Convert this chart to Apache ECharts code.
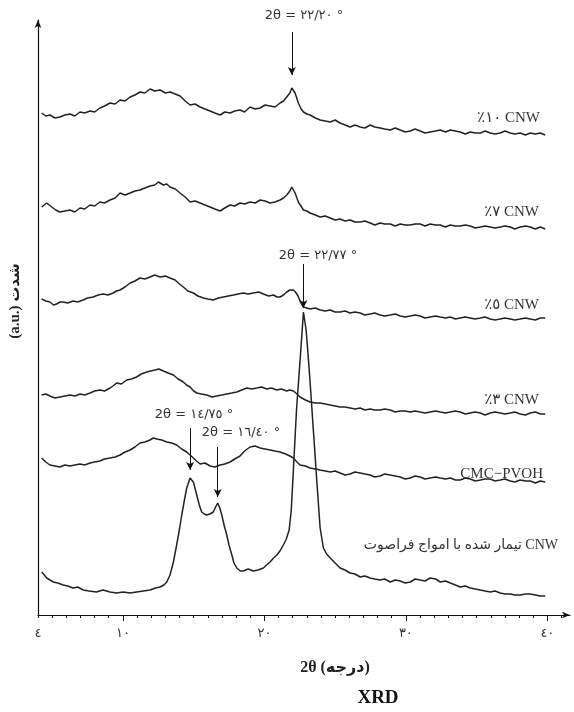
<!DOCTYPE html>
<html>
<head>
<meta charset="utf-8">
<script src="https://cdn.jsdelivr.net/npm/echarts@6/dist/echarts.min.js"></script>
<style>
  html, body { margin: 0; padding: 0; background: #fff; }
  #main { width: 574px; height: 712px; }
</style>
</head>
<body>
<div id="main"></div>
<script>
// x ticks (2θ, degrees) and their Persian labels
var tickValues = [4, 10, 20, 30, 40];
var tickLabels = ["٤", "١٠", "٢٠", "٣٠", "٤٠"];
var majorTicks = [10, 20, 30, 40];

// curves: [2θ, intensity a.u.]
var cnw10 = [
  [4.26, 502], [4.55, 499], [4.84, 500], [5.2, 497], [5.55, 498], [5.9, 500], [6.26, 501], [6.6, 499],
  [6.97, 503], [7.3, 502], [7.68, 504], [8.0, 503], [8.38, 507], [8.7, 509], [9.09, 512], [9.45, 511],
  [9.8, 515], [10.15, 514], [10.51, 518], [10.85, 520], [11.21, 523], [11.55, 522], [11.92, 526], [12.25, 524],
  [12.63, 525], [13.0, 522], [13.33, 523], [13.7, 521], [14.04, 519], [14.4, 514], [14.75, 510], [15.1, 511],
  [15.46, 508], [15.8, 506], [16.16, 504], [16.5, 502], [16.87, 500], [17.2, 503], [17.58, 502], [17.9, 504],
  [18.28, 505], [18.6, 503], [18.99, 508], [19.35, 506], [19.7, 507], [20.05, 510], [20.4, 509], [20.75, 508],
  [21.11, 512], [21.35, 514], [21.58, 518], [21.8, 522], [21.94, 527], [22.17, 522], [22.4, 512], [22.6, 506],
  [22.76, 503], [23.0, 501], [23.23, 500], [23.6, 497], [23.94, 495], [24.3, 494], [24.65, 493], [25.0, 495],
  [25.35, 492], [25.7, 490], [26.06, 488], [26.4, 490], [26.77, 488], [27.1, 487], [27.48, 490], [27.8, 488],
  [28.18, 487], [28.5, 486], [28.89, 485], [29.25, 487], [29.6, 485], [29.95, 483], [30.31, 484], [30.65, 486],
  [31.01, 484], [31.35, 482], [31.72, 483], [32.1, 484], [32.43, 485], [32.8, 483], [33.14, 485], [33.5, 484],
  [33.84, 483], [34.2, 481], [34.55, 483], [34.9, 482], [35.26, 482], [35.6, 484], [35.96, 482], [36.3, 481],
  [36.67, 482], [37.0, 484], [37.38, 482], [37.7, 481], [38.08, 482], [38.45, 480], [38.79, 482], [39.15, 481],
  [39.5, 482], [39.85, 480]
];
var cnw7 = [
  [4.26, 408], [4.61, 412], [4.97, 408], [5.25, 405], [5.55, 403], [5.9, 404], [6.26, 405], [6.6, 403],
  [6.97, 407], [7.3, 406], [7.68, 410], [8.0, 409], [8.38, 413], [8.7, 412], [9.09, 415], [9.45, 417],
  [9.8, 422], [10.15, 420], [10.51, 422], [10.85, 424], [11.21, 425], [11.55, 427], [11.92, 429], [12.25, 430],
  [12.51, 433], [12.86, 430], [13.1, 431], [13.33, 428], [13.7, 426], [14.04, 422], [14.4, 418], [14.75, 413],
  [15.1, 414], [15.46, 412], [15.8, 410], [16.16, 408], [16.5, 406], [16.87, 404], [17.2, 407], [17.58, 410],
  [17.9, 409], [18.28, 412], [18.6, 411], [18.99, 413], [19.35, 412], [19.7, 415], [20.05, 414], [20.4, 412],
  [20.75, 413], [21.11, 415], [21.35, 417], [21.58, 420], [21.8, 424], [21.94, 428], [22.17, 422], [22.4, 413],
  [22.76, 405], [23.0, 404], [23.23, 402], [23.6, 400], [23.94, 398], [24.3, 399], [24.65, 397], [25.0, 395],
  [25.35, 396], [25.7, 394], [26.06, 395], [26.4, 393], [26.77, 393], [27.1, 394], [27.48, 392], [27.8, 390],
  [28.18, 392], [28.5, 391], [28.89, 391], [29.25, 389], [29.6, 391], [29.95, 390], [30.31, 390], [30.65, 391],
  [31.01, 391], [31.35, 389], [31.72, 391], [32.1, 390], [32.43, 390], [32.8, 388], [33.14, 390], [33.5, 389],
  [33.84, 389], [34.2, 390], [34.55, 389], [34.9, 387], [35.26, 388], [35.6, 389], [35.96, 388], [36.3, 387],
  [36.67, 388], [37.0, 389], [37.38, 388], [37.7, 386], [38.08, 388], [38.45, 389], [38.79, 388], [39.15, 386],
  [39.5, 388], [39.85, 386]
];
var cnw5 = [
  [4.26, 316], [4.55, 314], [4.84, 313], [5.1, 310], [5.31, 311], [5.55, 313], [5.78, 313], [6.1, 312],
  [6.48, 314], [6.8, 313], [7.19, 315], [7.5, 317], [7.9, 318], [8.25, 320], [8.61, 321], [8.95, 320],
  [9.31, 322], [9.55, 324], [9.8, 325], [10.15, 328], [10.51, 332], [10.85, 334], [11.21, 337], [11.55, 336],
  [11.92, 338], [12.25, 340], [12.63, 338], [13.0, 339], [13.33, 337], [13.69, 335], [14.0, 331], [14.27, 328],
  [14.6, 324], [14.98, 322], [15.3, 319], [15.69, 317], [16.0, 316], [16.39, 315], [16.75, 317], [17.1, 318],
  [17.45, 319], [17.81, 320], [18.15, 321], [18.51, 322], [18.85, 321], [19.22, 322], [19.6, 323], [19.93, 321],
  [20.3, 319], [20.64, 320], [20.9, 318], [21.11, 318], [21.35, 320], [21.58, 323], [21.8, 325], [22.05, 325],
  [22.2, 323], [22.38, 319], [22.55, 313], [22.76, 308], [23.0, 307], [23.23, 306], [23.6, 307], [23.94, 305],
  [24.3, 304], [24.65, 305], [25.0, 303], [25.35, 303], [25.7, 304], [26.06, 302], [26.4, 303], [26.77, 302],
  [27.1, 300], [27.48, 301], [27.8, 302], [28.18, 300], [28.5, 299], [28.89, 300], [29.25, 301], [29.6, 299],
  [29.95, 298], [30.31, 299], [30.65, 300], [31.01, 299], [31.35, 297], [31.72, 298], [32.1, 299], [32.43, 298],
  [32.8, 297], [33.14, 298], [33.5, 296], [33.84, 297], [34.2, 298], [34.55, 297], [34.9, 296], [35.26, 297],
  [35.6, 298], [35.96, 296], [36.3, 295], [36.67, 296], [37.0, 297], [37.38, 296], [37.7, 295], [38.08, 296],
  [38.45, 297], [38.79, 296], [39.15, 295], [39.5, 297], [39.85, 297]
];
var cnw3 = [
  [4.26, 220], [4.55, 221], [4.84, 219], [5.2, 217], [5.55, 218], [5.9, 219], [6.26, 220], [6.6, 219],
  [6.97, 221], [7.3, 220], [7.68, 222], [8.0, 224], [8.38, 225], [8.7, 224], [9.09, 227], [9.3, 229],
  [9.56, 232], [9.9, 231], [10.27, 235], [10.6, 236], [10.97, 238], [11.3, 241], [11.68, 243], [11.95, 244],
  [12.27, 245], [12.55, 246], [12.86, 244], [13.2, 242], [13.57, 240], [13.9, 236], [14.27, 233], [14.5, 230],
  [14.75, 228], [15.0, 224], [15.22, 222], [15.55, 221], [15.93, 220], [16.3, 218], [16.63, 219], [17.0, 220],
  [17.34, 221], [17.7, 222], [18.05, 223], [18.4, 225], [18.76, 227], [19.1, 226], [19.46, 227], [19.8, 228],
  [20.17, 226], [20.5, 227], [20.88, 225], [21.2, 226], [21.58, 224], [21.8, 225], [22.05, 224], [22.3, 221],
  [22.52, 218], [22.9, 215], [23.23, 213], [23.6, 212], [23.94, 212], [24.3, 211], [24.65, 210], [25.0, 209],
  [25.35, 208], [25.7, 208], [26.06, 207], [26.4, 206], [26.77, 207], [27.1, 205], [27.48, 206], [27.8, 205],
  [28.18, 205], [28.5, 206], [28.89, 205], [29.25, 203], [29.6, 204], [29.95, 204], [30.31, 203], [30.65, 204],
  [31.01, 203], [31.35, 202], [31.72, 203], [32.1, 204], [32.43, 203], [32.8, 202], [33.14, 203], [33.5, 204],
  [33.84, 203], [34.2, 201], [34.55, 202], [34.9, 203], [35.26, 202], [35.6, 200], [35.96, 202], [36.3, 203],
  [36.67, 202], [37.0, 201], [37.38, 202], [37.7, 203], [38.08, 201], [38.45, 200], [38.79, 202], [39.15, 203],
  [39.5, 201], [39.85, 201]
];
var cmcPvoh = [
  [4.26, 157], [4.55, 153], [4.84, 150], [5.2, 149], [5.55, 148], [5.9, 150], [6.26, 149], [6.6, 150],
  [6.97, 151], [7.3, 150], [7.68, 152], [8.0, 153], [8.38, 154], [8.7, 156], [9.09, 157], [9.45, 158],
  [9.8, 160], [10.15, 163], [10.51, 165], [10.85, 168], [11.21, 172], [11.55, 173], [11.92, 175], [12.15, 177],
  [12.39, 176], [12.75, 175], [13.1, 173], [13.45, 172], [13.8, 170], [14.15, 166], [14.51, 163], [14.75, 160],
  [14.98, 157], [15.2, 154], [15.46, 151], [15.8, 152], [16.16, 149], [16.5, 148], [16.87, 150], [17.2, 151],
  [17.58, 153], [17.9, 156], [18.28, 159], [18.6, 164], [18.99, 168], [19.35, 169], [19.7, 167], [20.05, 166],
  [20.4, 165], [20.75, 164], [21.11, 163], [21.5, 161], [21.8, 159], [22.05, 157], [22.3, 153], [22.52, 150],
  [22.9, 149], [23.23, 147], [23.6, 146], [23.94, 145], [24.3, 144], [24.65, 143], [25.0, 144], [25.35, 142],
  [25.7, 140], [26.06, 141], [26.4, 143], [26.77, 142], [27.1, 141], [27.48, 140], [27.8, 138], [28.18, 139],
  [28.5, 141], [28.89, 140], [29.25, 139], [29.6, 138], [29.95, 136], [30.31, 137], [30.65, 139], [31.01, 138],
  [31.35, 136], [31.72, 137], [32.1, 138], [32.43, 137], [32.8, 136], [33.14, 137], [33.5, 135], [33.84, 135],
  [34.2, 137], [34.55, 136], [34.9, 134], [35.26, 135], [35.6, 136], [35.96, 136], [36.3, 134], [36.67, 135],
  [37.0, 136], [37.38, 134], [37.7, 133], [38.08, 135], [38.45, 134], [38.79, 134], [39.15, 132], [39.5, 134],
  [39.85, 133]
];
var cnwUltrasound = [
  [4.26, 43], [4.45, 40], [4.61, 37], [4.85, 35], [5.08, 33], [5.4, 32], [5.78, 30], [6.1, 29],
  [6.48, 27], [6.8, 28], [7.19, 25], [7.6, 24], [8.13, 23], [8.6, 25], [9.09, 23], [9.55, 22],
  [10.03, 23], [10.5, 22], [10.97, 23], [11.45, 24], [11.92, 25], [12.3, 27], [12.63, 28], [12.9, 30],
  [13.1, 33], [13.33, 40], [13.57, 53], [13.8, 70], [14.0, 86], [14.16, 100], [14.35, 115], [14.51, 127],
  [14.75, 137], [14.98, 133], [15.22, 120], [15.4, 110], [15.57, 103], [15.75, 101], [15.93, 100], [16.15, 101],
  [16.39, 103], [16.55, 108], [16.7, 112], [16.85, 107], [16.99, 100], [17.15, 90], [17.34, 80], [17.5, 70],
  [17.7, 60], [17.85, 52], [18.05, 47], [18.3, 44], [18.51, 44], [18.85, 46], [19.22, 44], [19.55, 45],
  [19.93, 47], [20.15, 50], [20.4, 53], [20.65, 57], [20.88, 60], [21.1, 64], [21.34, 70], [21.55, 76],
  [21.75, 85], [21.9, 105], [22.05, 145], [22.27, 205], [22.55, 260], [22.76, 303], [22.95, 285], [23.1, 258],
  [23.23, 233], [23.47, 183], [23.71, 133], [23.94, 87], [24.17, 67], [24.4, 61], [24.65, 57], [25.0, 52],
  [25.35, 47], [25.7, 45], [26.06, 42], [26.4, 41], [26.77, 38], [27.1, 39], [27.48, 37], [27.8, 36],
  [28.18, 35], [28.5, 36], [28.89, 33], [29.25, 35], [29.6, 34], [29.95, 32], [30.31, 33], [30.65, 36],
  [31.01, 35], [31.35, 34], [31.72, 37], [32.1, 36], [32.43, 33], [32.8, 34], [33.14, 32], [33.5, 30],
  [33.84, 28], [34.2, 29], [34.55, 27], [34.9, 26], [35.26, 25], [35.6, 24], [35.96, 23], [36.3, 24],
  [36.67, 22], [37.0, 21], [37.38, 21], [37.7, 20], [38.08, 20], [38.45, 21], [38.79, 21], [39.15, 20],
  [39.5, 19], [39.85, 19]
];

// peak arrows: [2θ, from, to] in the same a.u. scale
var peakArrows = [
  [21.94, 583, 540],
  [22.76, 351, 307],
  [14.75, 187, 145],
  [16.7, 168, 118]
];

var chart = echarts.init(document.getElementById("main"), null, { renderer: "canvas" });

var lineColor = "#222";
var serif = '"Liberation Serif", "DejaVu Sans", serif';
var sans = '"DejaVu Sans", "Noto Sans", sans-serif';

function mkSeries(name, data) {
  return {
    name: name,
    type: "line",
    data: data,
    showSymbol: false,
    smooth: false,
    lineStyle: { color: lineColor, width: 1.5 },
    silent: true
  };
}

var series = [
  mkSeries("%10 CNW", cnw10),
  mkSeries("%7 CNW", cnw7),
  mkSeries("%5 CNW", cnw5),
  mkSeries("%3 CNW", cnw3),
  mkSeries("CMC-PVOH", cmcPvoh),
  mkSeries("CNW US", cnwUltrasound)
];
series[0].markLine = {
  silent: true,
  symbol: ["none", "arrow"],
  symbolSize: [6, 8],
  label: { show: false },
  lineStyle: { color: "#111", width: 1, type: "solid" },
  data: peakArrows.map(function (a) {
    return [{ coord: [a[0], a[1]] }, { coord: [a[0], a[2]] }];
  })
};

function annot(text, x, y) {
  return {
    type: "text", x: x, y: y, silent: true,
    style: { text: text, font: "13px " + sans, fill: "#333", align: "center", verticalAlign: "middle" }
  };
}
function curveLabel(text, x, y, size) {
  return {
    type: "text", x: x, y: y, silent: true,
    style: { text: text, font: (size || 15) + "px " + serif, fill: "#333", align: "right", verticalAlign: "middle" }
  };
}

var option = {
  backgroundColor: "#fff",
  animation: false,
  grid: { left: 38, right: 4, top: 20, bottom: 97 },
  xAxis: [
    {
      type: "value",
      min: 4,
      max: 41.6,
      interval: 1,
      axisLine: {
        show: true,
        symbol: ["none", "arrow"],
        symbolSize: [5, 8],
        lineStyle: { color: "#111", width: 1.2 }
      },
      axisTick: { show: true, length: 3, lineStyle: { color: "#111" } },
      axisLabel: {
        margin: 12,
        color: "#333",
        fontSize: 13,
        fontFamily: sans,
        showMaxLabel: false,
        formatter: function (v) {
          var i = tickValues.indexOf(Math.round(v * 100) / 100);
          return i >= 0 ? tickLabels[i] : "";
        }
      },
      splitLine: { show: false }
    },
    {
      type: "value",
      min: 4,
      max: 41.6,
      position: "bottom",
      axisLine: { show: false },
      axisTick: { show: true, length: 6, customValues: majorTicks, lineStyle: { color: "#111" } },
      axisLabel: { show: false },
      splitLine: { show: false }
    }
  ],
  yAxis: {
    type: "value",
    min: 0,
    max: 595,
    axisLine: {
      show: true,
      symbol: ["none", "arrow"],
      symbolSize: [5, 8],
      lineStyle: { color: "#111", width: 1.2 }
    },
    axisTick: { show: false },
    axisLabel: { show: false },
    splitLine: { show: false }
  },
  series: series,
  graphic: [
    annot("2θ = ٢٢/٢٠ °", 304, 16),
    annot("2θ = ٢٢/٧٧ °", 318, 256),
    annot("2θ = ١٤/٧٥ °", 194, 415),
    annot("2θ = ١٦/٤٠ °", 241, 433),
    curveLabel("٪١٠ CNW", 540, 118),
    curveLabel("٪٧ CNW", 539, 212),
    curveLabel("٪٥ CNW", 539, 305),
    curveLabel("٪٣ CNW", 539, 400),
    curveLabel("CMC−PVOH", 543, 474),
    curveLabel("تیمار شده با امواج فراصوت CNW", 558, 545, 14),
    {
      type: "text", x: 15, y: 301, rotation: Math.PI / 2, silent: true,
      style: { text: "(a.u.) شدت", font: "bold 15px " + serif, fill: "#222", align: "center", verticalAlign: "middle" }
    },
    {
      type: "text", x: 335, y: 668, silent: true,
      style: { text: "2θ (درجه)", font: "bold 16px " + serif, fill: "#222", align: "center", verticalAlign: "middle" }
    },
    {
      type: "text", x: 378, y: 698, silent: true,
      style: { text: "XRD", font: "bold 19px " + serif, fill: "#111", align: "center", verticalAlign: "middle" }
    }
  ]
};

chart.setOption(option);
</script>
</body>
</html>
